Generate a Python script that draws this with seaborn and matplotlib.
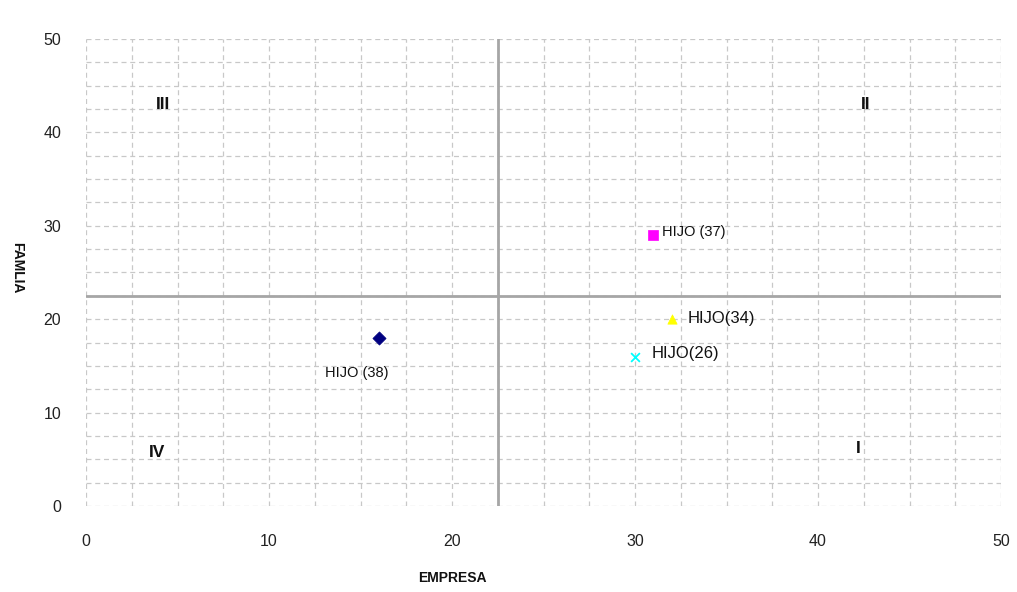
import numpy as np
import pandas as pd
import matplotlib
matplotlib.use("Agg")
import matplotlib.pyplot as plt
import seaborn as sns

# Data
labels = ["HIJO (38)", "HIJO (37)", "HIJO(34)", "HIJO(26)"]
empresa = [16, 31, 32, 30]
familia = [18, 29, 20, 16]
colors = ["#000080", "#FF00FF", "#FFFF00", "#00FFFF"]
markers = ["D", "s", "^", "x"]
quadrants = ["I", "II", "III", "IV"]
quad_x = [42.2, 42.6, 4.2, 3.9]
quad_y = [6.2, 43.0, 43.0, 5.7]
x_div = 22.5
y_div = 22.5

df = pd.DataFrame({"EMPRESA": empresa, "FAMLIA": familia, "label": labels})

sns.set_style("white")
plt.rcParams["font.family"] = ["Liberation Sans", "DejaVu Sans"]

fig = plt.figure(figsize=(10.17, 5.92), dpi=100)
ax = fig.add_axes([0.0846, 0.1453, 0.8997, 0.7888])

ax.axvline(x_div, color="#a6a6a6", lw=2.0, zorder=2)
ax.axhline(y_div, color="#a6a6a6", lw=2.0, zorder=2)

for i, lab in enumerate(labels):
    sub = df[df["label"] == lab]
    if markers[i] == "x":
        sns.scatterplot(data=sub, x="EMPRESA", y="FAMLIA", marker="x", color=colors[i],
                        s=40, linewidth=1.3, ax=ax, legend=False, zorder=5)
    else:
        sns.scatterplot(data=sub, x="EMPRESA", y="FAMLIA", marker=markers[i], color=colors[i],
                        edgecolor=colors[i], s=45, linewidth=0.5, ax=ax, legend=False, zorder=5)

ax.text(14.8, 14.2, "HIJO (38)", ha="center", va="center", fontsize=10.5, color="#111111")
ax.text(31.5, 29.3, "HIJO (37)", ha="left", va="center", fontsize=10.5, color="#111111")
ax.text(32.9, 20.1, "HIJO(34)", ha="left", va="center", fontsize=12, color="#111111")
ax.text(30.9, 16.3, "HIJO(26)", ha="left", va="center", fontsize=12, color="#111111")

for q, qx, qy in zip(quadrants, quad_x, quad_y):
    ax.text(qx, qy, q, ha="center", va="center", fontsize=12.5, fontweight="bold", color="#111111")

ax.set_xlim(0, 50)
ax.set_ylim(0, 50)
ax.set_xticks(np.arange(0, 51, 10))
ax.set_yticks(np.arange(0, 51, 10))
ax.set_xticks(np.arange(0, 50.1, 2.5), minor=True)
ax.set_yticks(np.arange(0, 50.1, 2.5), minor=True)
ax.grid(which="both", color="#c8c8c8", linestyle=(0, (4, 3)), linewidth=0.9, zorder=0)
ax.set_axisbelow(True)
ax.tick_params(which="both", length=0, labelsize=11.5, colors="#222222")
ax.tick_params(axis="x", pad=20)
ax.tick_params(axis="y", pad=18)
for s in ax.spines.values():
    s.set_visible(False)
ax.set_xlabel("")
ax.set_ylabel("")

fig.text(452 / 1017, 1 - 578 / 592, "EMPRESA", ha="center", va="center",
         fontsize=10, fontweight="bold", color="#111111")
fig.text(17 / 1017, 1 - 268 / 592, "FAMLIA", ha="center", va="center", rotation=270,
         fontsize=10, fontweight="bold", color="#111111")

fig.savefig("out.png", dpi=100, facecolor="white")
